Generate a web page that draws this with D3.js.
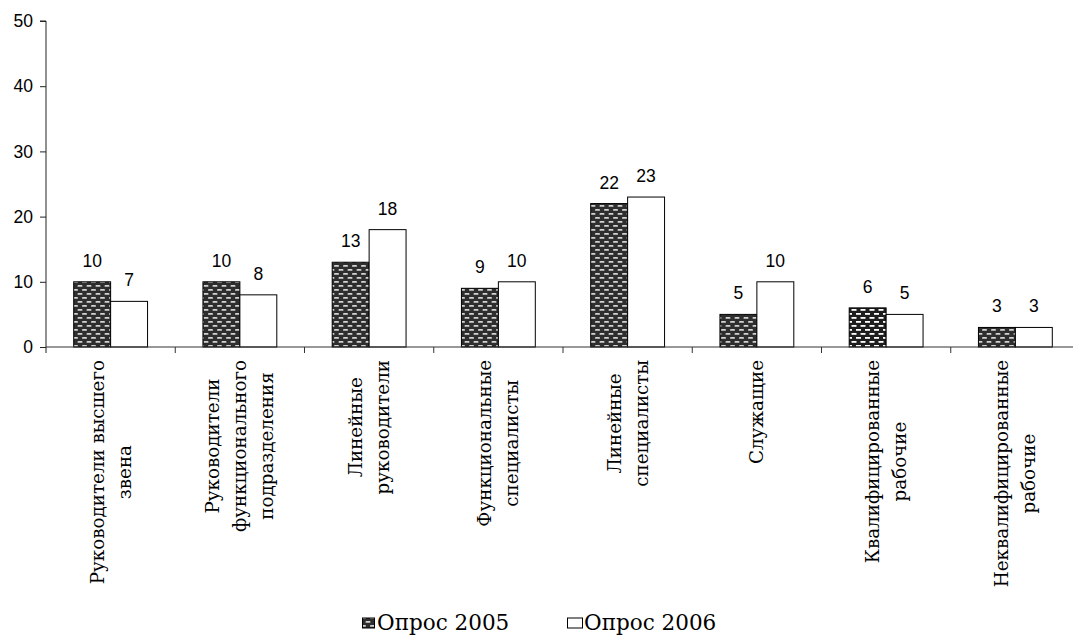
<!DOCTYPE html>
<html>
<head>
<meta charset="utf-8">
<script src="https://cdn.jsdelivr.net/npm/d3@7"></script>
<style>
  html, body { margin: 0; padding: 0; background: #fff; }
  svg { display: block; }
</style>
</head>
<body>
<svg id="chart" width="1073" height="636"></svg>
<script>
const categories = [
  ["Руководители высшего", "звена"],
  ["Руководители", "функционального", "подразделения"],
  ["Линейные", "руководители"],
  ["Функциональные", "специалисты"],
  ["Линейные", "специалисты"],
  ["Служащие"],
  ["Квалифицированные", "рабочие"],
  ["Неквалифицированные", "рабочие"]
];
const seriesNames = ["Опрос 2005", "Опрос 2006"];
const values2005 = [10, 10, 13, 9, 22, 5, 6, 3];
const values2006 = [7, 8, 18, 10, 23, 10, 5, 3];
const yTicks = [0, 10, 20, 30, 40, 50];

const svg = d3.select("#chart");
const catKeys = categories.map(c => c.join(" "));
const seriesValues = [values2005, values2006];

const x0 = 46, x1 = 1080, yTop = 21, yBot = 347;
const x = d3.scaleBand().domain(catKeys).range([x0, x1]).paddingInner(0).paddingOuter(0);
const xs = d3.scaleBand().domain(seriesNames).range([0, x.bandwidth()]).paddingInner(0).paddingOuter(0.75);
const y = d3.scaleLinear().domain([0, 50]).range([yBot, yTop]);

// patterns
const defs = svg.append("defs");
const p1 = defs.append("pattern").attr("id", "dots").attr("patternUnits", "userSpaceOnUse")
  .attr("width", 9).attr("height", 8);
p1.append("rect").attr("width", 9).attr("height", 8).attr("fill", "#2e2e2e");
[[1, 1], [5.5, 5], [-3.5, 5]].forEach(([px, py]) => {
  p1.append("rect").attr("x", px).attr("y", py).attr("width", 5).attr("height", 1.8)
    .attr("rx", 0.9).attr("fill", "#d4d4d4");
});
const p2 = defs.append("pattern").attr("id", "brick").attr("patternUnits", "userSpaceOnUse")
  .attr("width", 9).attr("height", 8);
p2.append("rect").attr("width", 9).attr("height", 8).attr("fill", "#1e1e1e");
[[1, 1], [5.5, 5], [-3.5, 5]].forEach(([px, py]) => {
  p2.append("rect").attr("x", px).attr("y", py).attr("width", 5).attr("height", 1.8)
    .attr("fill", "#ffffff");
});

const fills = (si, ci) => si === 1 ? "#ffffff" : (ci === 6 ? "url(#brick)" : "url(#dots)");

// bars
const g = svg.append("g");
catKeys.forEach((ck, ci) => {
  seriesNames.forEach((sn, si) => {
    const v = seriesValues[si][ci];
    const bx = x(ck) + xs(sn);
    g.append("rect")
      .attr("x", bx).attr("y", y(v))
      .attr("width", xs.bandwidth()).attr("height", y(0) - y(v))
      .attr("fill", fills(si, ci))
      .attr("stroke", "#000").attr("stroke-width", 1);
    g.append("text")
      .attr("x", bx + xs.bandwidth() / 2).attr("y", y(v) - 15)
      .attr("text-anchor", "middle")
      .attr("font-family", "Liberation Sans, Arial, sans-serif")
      .attr("font-size", 17.5).attr("fill", "#000")
      .text(v);
  });
});

// y axis
const yAxis = d3.axisLeft(y).tickValues(yTicks).tickSize(6).tickPadding(7);
const ya = svg.append("g").attr("transform", `translate(${x0},0)`).call(yAxis);
ya.select(".domain").attr("stroke", "#222").attr("d", `M-6,${yTop}H0V${yBot + 6}`);
ya.selectAll(".tick line").attr("stroke", "#222");
ya.selectAll(".tick text").attr("font-family", "Liberation Sans, Arial, sans-serif")
  .attr("font-size", 17.5).attr("fill", "#000");

// x axis
const xa = svg.append("g");
xa.append("line").attr("x1", x0).attr("x2", x1).attr("y1", y(0)).attr("y2", y(0))
  .attr("stroke", "#333").attr("stroke-width", 1);
catKeys.forEach(ck => {
  const tx = x(ck) + x.bandwidth();
  xa.append("line").attr("x1", tx).attr("x2", tx).attr("y1", y(0)).attr("y2", y(0) + 6)
    .attr("stroke", "#333");
});

// category labels (rotated)
const labelTop = 360, lineGap = 27;
catKeys.forEach((ck, ci) => {
  const lines = categories[ci];
  const cx = x(ck) + x.bandwidth() / 2;
  const grp = xa.append("g");
  const texts = lines.map((ln, li) => grp.append("text")
    .attr("text-anchor", "middle")
    .attr("dy", "0.35em")
    .attr("font-family", "DejaVu Serif, serif")
    .attr("font-size", 18.3).attr("fill", "#000")
    .text(ln));
  const maxLen = d3.max(texts, t => t.node().getComputedTextLength());
  texts.forEach((t, li) => {
    const lx = cx + (li - (lines.length - 1) / 2) * lineGap;
    t.attr("transform", `translate(${lx},${labelTop + maxLen / 2}) rotate(-90)`);
  });
});

// legend
const legY = 623;
const legItems = [{ sx: 362.5, sw: 12, tx: 377 }, { sx: 567.5, sw: 15, tx: 584 }];
seriesNames.forEach((sn, si) => {
  const L = legItems[si];
  svg.append("rect").attr("x", L.sx).attr("y", legY - 5).attr("width", L.sw).attr("height", 10)
    .attr("fill", si === 0 ? "url(#dots)" : "#fff").attr("stroke", "#000").attr("stroke-width", 1);
  svg.append("text").attr("x", L.tx).attr("y", legY + 7)
    .attr("font-family", "DejaVu Serif, serif").attr("font-size", 21.5).attr("fill", "#000")
    .text(sn);
});
</script>
</body>
</html>
